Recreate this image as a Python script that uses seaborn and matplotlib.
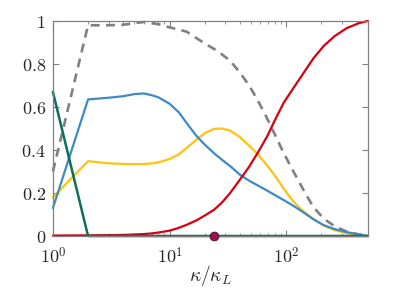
import matplotlib
matplotlib.use("Agg")
import matplotlib.pyplot as plt
import matplotlib.ticker as mticker
import seaborn as sns
import pandas as pd
import numpy as np

# kappa / kappa_L sample points
kappa = [1, 2, 3, 4, 5, 6, 7, 8, 10, 12, 14, 17, 20, 24, 28, 33, 40, 48, 57, 68,
         80, 95, 115, 140, 170, 210, 260, 330, 420, 500]

total = [0.30, 0.98, 0.98, 0.982, 0.99, 0.995, 0.99, 0.985, 0.97, 0.96, 0.95, 0.92,
         0.895, 0.87, 0.845, 0.815, 0.76, 0.70, 0.63, 0.55, 0.47, 0.385, 0.30, 0.215,
         0.135, 0.08, 0.045, 0.02, 0.007, 0.0]
blue = [0.13, 0.635, 0.643, 0.65, 0.66, 0.663, 0.655, 0.645, 0.615, 0.575, 0.525, 0.465,
        0.425, 0.385, 0.355, 0.325, 0.285, 0.257, 0.235, 0.212, 0.19, 0.167, 0.14, 0.11,
        0.078, 0.05, 0.032, 0.018, 0.007, 0.0]
yellow = [0.18, 0.348, 0.338, 0.335, 0.334, 0.335, 0.337, 0.342, 0.358, 0.38, 0.41, 0.448,
          0.478, 0.498, 0.50, 0.49, 0.46, 0.42, 0.38, 0.33, 0.28, 0.22, 0.16, 0.115,
          0.08, 0.047, 0.027, 0.013, 0.005, 0.0]
red = [0.002, 0.003, 0.004, 0.005, 0.007, 0.009, 0.012, 0.016, 0.025, 0.038, 0.052, 0.073,
       0.095, 0.122, 0.155, 0.20, 0.262, 0.322, 0.388, 0.46, 0.54, 0.62, 0.688, 0.757,
       0.825, 0.885, 0.93, 0.967, 0.99, 1.0]
green = [0.67] + [0.0] * 29

dot_kappa = [24]
dot_value = [0.0]

df = pd.DataFrame({"kappa": kappa, "total": total, "blue": blue,
                   "yellow": yellow, "red": red, "green": green})

sns.set_style("ticks")
plt.rcParams["mathtext.fontset"] = "cm"
plt.rcParams["font.family"] = ["DejaVu Serif"]

fig = plt.figure(figsize=(4.07, 2.91), dpi=100)
ax = fig.add_axes([0.130, 0.189, 0.774, 0.739])

sns.lineplot(data=df, x="kappa", y="total", ax=ax, color="#808080", linewidth=1.9,
             dashes=False, linestyle=(0, (3.4, 2.4)))
sns.lineplot(data=df, x="kappa", y="yellow", ax=ax, color="#FFC20E", linewidth=1.6)
sns.lineplot(data=df, x="kappa", y="blue", ax=ax, color="#3D8AC9", linewidth=1.6)
sns.lineplot(data=df, x="kappa", y="red", ax=ax, color="#D7000F", linewidth=1.6)
sns.lineplot(data=df, x="kappa", y="green", ax=ax, color="#0E6E5C", linewidth=1.8)
for line in ax.lines:
    line.set_clip_on(False)

ax.scatter(dot_kappa, dot_value, s=40, color="#A0104F", edgecolor="#3a0a20",
           linewidth=0.6, zorder=10, clip_on=False)

ax.set_xscale("log")
ax.set_xlim(1, 500)
ax.set_ylim(0, 1)
ax.set_yticks([0, 0.2, 0.4, 0.6, 0.8, 1])
ax.yaxis.set_major_formatter(mticker.FuncFormatter(lambda v, p: f"${v:g}$"))
ax.xaxis.set_major_locator(mticker.LogLocator(base=10, numticks=10))
ax.xaxis.set_minor_locator(mticker.LogLocator(base=10, subs=np.arange(2, 10), numticks=20))
ax.xaxis.set_minor_formatter(mticker.NullFormatter())
ax.xaxis.set_major_formatter(mticker.FuncFormatter(
    lambda v, p: rf"$10^{{{int(round(np.log10(v)))}}}$"))

ax.tick_params(which="both", direction="in", top=True, right=True,
               color="#808080", labelsize=13)
ax.tick_params(axis="x", pad=8)
ax.tick_params(axis="y", pad=5)
ax.tick_params(which="major", length=4, width=0.8)
ax.tick_params(which="minor", length=2, width=0.6)
for s in ax.spines.values():
    s.set_color("#808080")
    s.set_linewidth(0.9)

ax.set_xlabel(r"$\kappa/\kappa_L$", fontsize=14, labelpad=-3)
ax.set_ylabel("")

fig.savefig("out.png", dpi=100)
